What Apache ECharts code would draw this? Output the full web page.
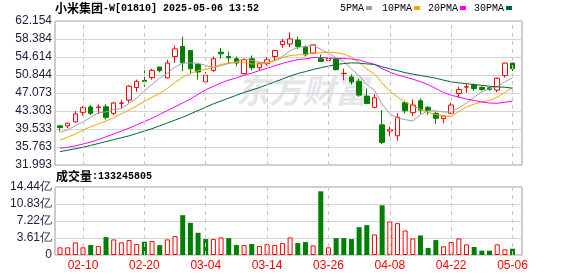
<!DOCTYPE html>
<html style="height: 100%">
<head>
<meta charset="utf-8">
<title>小米集团-W[01810] 日K</title>
<script src="https://cdn.jsdelivr.net/npm/echarts@6.0.0/dist/echarts.min.js"></script>
</head>
<body style="height: 100%; margin: 0; background: #fff">
<div id="container" style="width: 578px; height: 276px"></div>
<script type="text/javascript">
// trading days shown
var dates = ['02-05','02-06','02-07','02-10','02-11','02-12','02-13','02-14','02-17','02-18',
  '02-19','02-20','02-21','02-24','02-25','02-26','02-27','02-28','03-03','03-04',
  '03-05','03-06','03-07','03-10','03-11','03-12','03-13','03-14','03-17','03-18',
  '03-19','03-20','03-21','03-24','03-25','03-26','03-27','03-28','03-31','04-01',
  '04-02','04-03','04-07','04-08','04-09','04-10','04-11','04-14','04-15','04-16',
  '04-17','04-22','04-23','04-24','04-25','04-28','04-29','04-30','05-02','05-06'];

var openP = [40.19,40.19,41.02,43.03,44.14,44.00,44.20,42.82,44.90,45.59,
  48.22,49.70,50.30,52.51,50.23,54.72,56.80,55.97,53.06,49.39,
  51.82,55.62,54.72,54.24,51.13,54.24,52.37,53.20,54.72,57.22,
  57.35,58.18,56.66,55.42,54.24,53.89,54.17,51.13,50.43,49.53,
  46.42,44.07,40.40,39.10,38.12,45.04,42.96,45.45,44.07,42.82,
  41.71,42.82,46.97,48.30,48.77,48.22,48.15,47.67,50.71,53.34];
var closeP = [39.85,40.75,42.68,44.00,42.82,44.14,41.99,44.97,45.00,48.49,
  49.53,49.50,51.82,51.75,53.34,56.31,53.41,52.16,51.47,50.78,
  54.24,55.28,54.45,53.34,54.03,52.37,53.34,54.03,55.97,57.91,
  58.39,56.80,55.07,57.15,53.69,54.31,51.96,51.20,49.39,46.63,
  44.90,46.07,36.73,39.35,41.99,43.37,44.55,43.51,43.37,41.78,
  42.27,44.55,47.80,48.40,48.01,47.80,47.80,50.16,53.34,52.16];
var lowP = [39.02,39.71,40.88,42.34,42.48,42.68,41.57,42.48,43.86,45.04,
  47.32,48.36,49.88,51.40,50.09,53.41,51.68,51.13,49.88,49.05,
  51.47,54.24,53.20,52.65,50.99,51.82,51.82,52.79,53.89,56.52,
  56.66,56.31,54.72,55.42,53.55,53.76,51.82,49.74,48.84,46.28,
  44.69,43.86,36.39,37.98,37.08,42.82,42.27,42.68,42.48,40.61,
  40.75,42.68,46.07,47.11,47.53,47.53,47.53,47.25,50.30,51.68];
var highP = [40.25,40.80,43.30,44.34,44.55,44.69,44.76,45.24,45.59,48.70,
  49.88,51.82,52.16,52.51,54.03,57.01,58.87,56.05,53.20,51.47,
  54.72,56.52,55.76,54.72,54.24,54.93,53.55,54.58,56.11,58.39,
  59.78,58.87,57.01,57.15,55.14,54.58,54.58,52.16,50.99,50.09,
  48.01,46.84,43.51,40.05,42.82,45.45,45.73,45.94,44.34,43.17,
  42.48,45.04,48.36,49.05,49.05,48.50,48.36,50.30,53.40,53.40];

var ma5 = [38.8,39.4,40.2,41.0,42.0,42.9,43.1,43.6,43.8,44.9,
  46.0,47.5,48.87,50.22,51.19,52.54,53.33,53.39,53.34,52.83,
  52.41,52.79,53.24,53.62,54.27,53.89,53.51,53.42,53.95,54.72,
  55.93,56.62,56.83,57.06,56.22,55.40,54.44,53.66,52.11,50.70,
  48.82,47.64,44.74,42.74,41.81,41.50,41.20,42.55,43.36,43.32,
  43.10,43.10,43.95,44.96,46.21,47.31,47.96,48.43,49.42,50.25];
var ma10 = [37.2,37.8,38.5,39.3,40.0,40.6,41.2,41.9,42.7,43.5,
  44.4,45.3,46.2,47.0,48.05,49.27,50.41,51.13,51.78,52.01,
  52.48,53.06,53.32,53.48,53.55,53.15,53.15,53.33,53.78,54.50,
  54.91,55.06,55.13,55.51,55.47,55.67,55.53,55.25,54.59,53.46,
  52.11,51.04,49.20,47.42,46.25,45.16,44.42,43.65,43.05,42.56,
  42.30,42.15,43.25,44.16,44.76,45.20,45.53,46.19,47.19,48.23];
var ma20 = [35.5,35.7,36.0,36.4,36.8,37.3,37.9,38.5,39.1,39.7,
  40.4,41.1,41.8,42.6,43.4,44.2,45.0,45.8,46.8,47.75,
  48.47,49.19,49.78,50.25,50.81,51.22,51.79,52.24,52.79,53.26,
  53.71,54.07,54.23,54.49,54.51,54.41,54.34,54.29,54.19,53.98,
  53.51,53.05,52.16,51.46,50.86,50.41,49.97,49.45,48.82,48.01,
  47.20,46.59,46.23,45.79,45.51,45.18,44.97,44.92,45.12,45.40];
var ma30 = [34.8,35.1,35.4,35.7,36.1,36.5,36.9,37.3,37.7,38.1,
  38.6,39.1,39.6,40.2,40.8,41.4,42.0,42.7,43.4,44.1,
  44.8,45.4,46.0,46.6,47.2,47.7,48.2,48.8,49.4,50.0,
  50.62,51.15,51.56,52.00,52.36,52.70,53.04,53.24,53.39,53.33,
  53.17,53.06,52.56,52.14,51.76,51.33,51.03,50.74,50.47,50.17,
  49.77,49.42,49.19,49.03,48.83,48.68,48.49,48.36,48.28,48.08];

// volume in 亿股, and whether the bar is drawn red (1) or green (0)
var volume = [1.62,1.62,2.68,1.62,2.11,1.90,3.80,3.31,2.68,3.17,
  2.32,2.82,2.96,2.11,3.31,4.01,8.45,6.83,4.72,3.38,
  3.38,3.73,3.59,2.11,2.11,2.32,1.90,2.32,2.11,2.53,
  3.73,2.53,2.75,2.04,13.52,1.62,3.59,3.59,3.38,5.91,
  6.34,4.36,10.56,7.11,6.76,5.21,3.52,4.15,1.48,3.17,
  1.83,2.75,3.52,2.25,1.69,0.92,0.92,2.25,1.20,1.33];
var volUp = [1,1,1,1,0,1,0,1,1,1,
  1,0,1,0,1,1,0,0,0,0,
  1,1,0,0,1,0,1,1,1,1,
  1,0,0,1,0,1,0,0,0,0,
  0,1,0,1,1,1,1,0,0,0,
  1,1,1,1,0,0,0,1,1,0];

var priceTicks = ['31.993','35.763','39.533','43.303','47.073','50.844','54.614','58.384','62.154'];
var volTicks = ['0','3.61亿','7.22亿','10.83亿','14.44亿'];
var labelDates = ['02-10','02-20','03-04','03-14','03-26','04-08','04-22','05-06'];

var dom = document.getElementById('container');
var myChart = echarts.init(dom, null, {renderer: 'canvas'});

var frameColor = '#999999';
var splitColor = '#d4d4d4';
var tickText = {color: '#1c1c3c', fontSize: 12, fontFamily: 'Liberation Sans, Arial, sans-serif', margin: 3};
var dashLine = {
  silent: true,
  symbol: ['none', 'none'],
  label: {show: false},
  lineStyle: {color: '#c8c8c8', type: [4, 4], width: 1},
  emphasis: {disabled: true},
  animation: false,
  data: labelDates.map(function (d) { return {xAxis: d}; })
};

function maSeries(name, data, color) {
  return {
    name: name, type: 'line', xAxisIndex: 1, yAxisIndex: 1,
    data: data, symbol: 'none', smooth: false,
    lineStyle: {width: 1, color: color}, itemStyle: {color: color},
    silent: true
  };
}

var option = {
  animation: false,
  backgroundColor: '#ffffff',
  title: [
    {
      text: '{c|小米集团}{m|-W[01810] 2025-05-06 13:52}',
      left: 55, top: 2, padding: 0,
      textStyle: {rich: {
        c: {fontSize: 12, fontFamily: 'Noto Sans CJK SC', color: '#000'},
        m: {fontSize: 10, fontFamily: 'Liberation Mono', color: '#000'}
      }}
    },
    {
      text: '{c|成交量}{m|:133245805}',
      left: 56, top: 170, padding: 0,
      textStyle: {rich: {
        c: {fontSize: 12, fontFamily: 'Noto Sans CJK SC', color: '#000'},
        m: {fontSize: 10, fontFamily: 'Liberation Mono', color: '#000'}
      }}
    }
  ],
  legend: [
    ['5PMA', 340], ['10PMA', 382], ['20PMA', 428], ['30PMA', 474]
  ].map(function (l) {
    return {
      data: [l[0]], left: l[1], top: 3, padding: 0, align: 'right',
      icon: 'rect', itemWidth: 6, itemHeight: 4, selectedMode: false,
      textStyle: {fontFamily: 'Liberation Mono', fontSize: 10, color: '#000', padding: [0, -3, 0, 0]}
    };
  }),
  graphic: [{
    type: 'text', left: 236, top: 74, z: -10, silent: true,
    style: {text: '东方财富', fill: '#e6e6ea', font: 'italic bold 33px "Noto Sans CJK SC"'}
  }],
  grid: [
    {left: 55, top: 21, width: 467, height: 144, show: true, borderColor: frameColor, borderWidth: 1, outerBoundsMode: 'none'},
    {left: 56.17, top: 21, width: 460.2, height: 144, outerBoundsMode: 'none'},
    {left: 55, top: 187, width: 467, height: 68, show: true, borderColor: frameColor, borderWidth: 1, outerBoundsMode: 'none'},
    {left: 56.17, top: 187, width: 460.2, height: 68, outerBoundsMode: 'none'}
  ],
  xAxis: [
    {gridIndex: 0, type: 'value', min: 0, max: 1, show: false},
    {gridIndex: 1, type: 'category', data: dates, boundaryGap: true, show: false},
    {gridIndex: 2, type: 'value', min: 0, max: 1, show: false},
    {
      gridIndex: 3, type: 'category', data: dates, boundaryGap: true,
      axisLine: {show: false}, axisTick: {show: false}, splitLine: {show: false},
      axisLabel: {
        color: '#ff0000', fontSize: 12, fontFamily: 'Liberation Sans, Arial, sans-serif', margin: 5,
        hideOverlap: false,
        interval: function (idx, val) { return labelDates.indexOf(val) >= 0; }
      }
    }
  ],
  yAxis: [
    {
      gridIndex: 0, type: 'value', min: 0, max: priceTicks.length - 1, interval: 1,
      axisLine: {show: false}, axisTick: {show: false},
      splitLine: {lineStyle: {color: splitColor, width: 1}},
      axisLabel: Object.assign({formatter: function (v) { return priceTicks[v]; }}, tickText)
    },
    {gridIndex: 1, type: 'value', min: +priceTicks[0], max: +priceTicks[priceTicks.length - 1], show: false},
    {
      gridIndex: 2, type: 'value', min: 0, max: volTicks.length - 1, interval: 1,
      axisLine: {show: false}, axisTick: {show: false},
      splitLine: {lineStyle: {color: splitColor, width: 1}},
      axisLabel: Object.assign({formatter: function (v) { return volTicks[v]; }}, tickText)
    },
    {gridIndex: 3, type: 'value', min: 0, max: 14.44, show: false}
  ],
  series: [
    {
      name: 'grid', type: 'line', xAxisIndex: 1, yAxisIndex: 1, data: [],
      markLine: dashLine
    },
    maSeries('5PMA', ma5, '#a0a0a0'),
    maSeries('10PMA', ma10, '#f5a400'),
    maSeries('20PMA', ma20, '#ff00ff'),
    maSeries('30PMA', ma30, '#006633'),
    {
      name: 'K', type: 'candlestick', xAxisIndex: 1, yAxisIndex: 1,
      barWidth: 5, silent: true,
      data: dates.map(function (d, i) { return [openP[i], closeP[i], lowP[i], highP[i]]; }),
      itemStyle: {
        color: '#ffffff', color0: '#008000',
        borderColor: '#ff0000', borderColor0: '#008000', borderWidth: 1
      }
    },
    {
      name: '成交量', type: 'bar', xAxisIndex: 3, yAxisIndex: 3,
      barWidth: 5, silent: true,
      data: volume.map(function (v, i) {
        return {
          value: v,
          itemStyle: volUp[i]
            ? {color: '#ffffff', borderColor: '#ff0000', borderWidth: 1}
            : {color: '#008000', borderColor: '#008000', borderWidth: 0}
        };
      }),
      markLine: dashLine
    }
  ]
};

if (option && typeof option === 'object') {
  myChart.setOption(option);
}
</script>
</body>
</html>
